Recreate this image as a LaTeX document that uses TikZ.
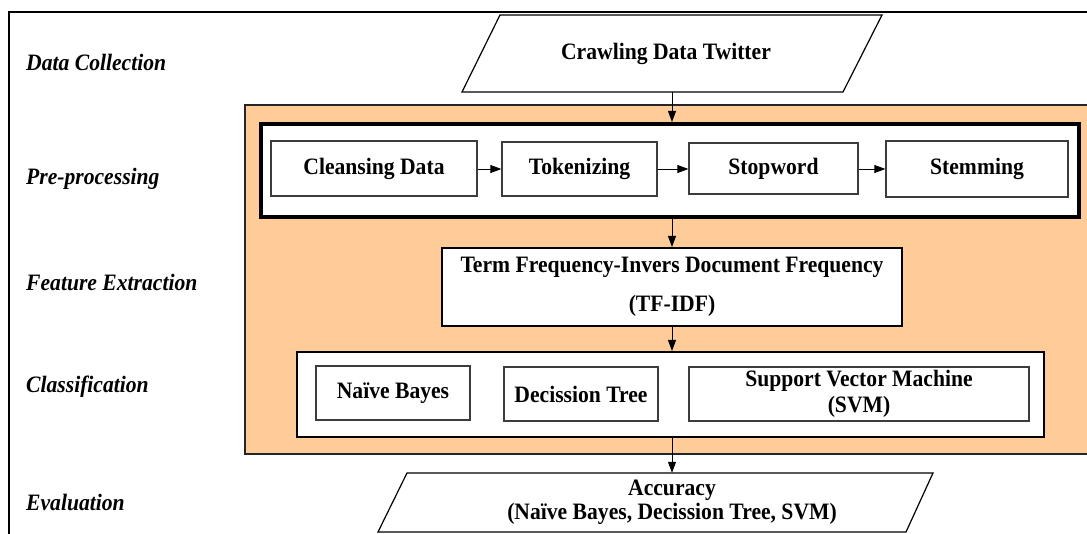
\documentclass[tikz,border=0pt]{standalone}
\usepackage{fontspec}
\setmainfont{Liberation Serif}[FakeStretch=0.92]
\usetikzlibrary{arrows.meta}
\definecolor{orangebg}{RGB}{255,204,153}
\definecolor{boxline}{RGB}{60,60,60}
\begin{document}
\begin{tikzpicture}[x=1pt,y=-1pt,
  lbl/.style={anchor=base west,font=\fontsize{23.5}{26}\selectfont\bfseries\itshape,inner sep=0pt},
  txt/.style={font=\fontsize{23.5}{26}\selectfont\bfseries,align=center,inner sep=0pt},
  smallbox/.style={txt,draw=boxline,line width=1.3pt,fill=white},
  bigbox/.style={draw=black,line width=2pt,fill=white},
  arr/.style={-{Triangle[length=11pt,width=8pt]},line width=0.8pt},
  para/.style={draw=black,line width=1.2pt,fill=white},
]
\useasboundingbox (0,0) rectangle (1087,534);
\clip (0,0) rectangle (1087,534);
% outer frame
\draw[line width=2.3pt] (9,12) rectangle (1120,560);
% stage labels
\node[lbl] (l1) at (26,71) {Data Collection};
\node[lbl] (l2) at (26,185) {Pre-processing};
\node[lbl] (l3) at (26,291) {Feature Extraction};
\node[lbl] (l4) at (26,393) {Classification};
\node[lbl] (l5) at (26,510) {Evaluation};
% orange background
\filldraw[fill=orangebg,draw=black!85,line width=1.6pt] (245,105) rectangle (1120,454);
% data collection
\draw[para] (500,15) -- (882,15) -- (843,92) -- (462,92) -- cycle;
\node[txt,minimum height=77pt] (crawl) at (672,53.5) {\hspace*{-12pt}Crawling Data Twitter};
% preprocessing
\node[draw=black,line width=4pt,fill=white,minimum width=818pt,minimum height=93pt] (pre) at (670,170.5) {};
\node[smallbox,minimum width=206pt,minimum height=55pt] (clean) at (374,168.5) {Cleansing Data};
\node[smallbox,minimum width=155pt,minimum height=54pt] (tok) at (579.5,169) {Tokenizing};
\node[smallbox,minimum width=169pt,minimum height=51pt] (stop) at (773.5,168.5) {Stopword};
\node[smallbox,minimum width=182pt,minimum height=56pt] (stem) at (977,169) {Stemming};
% feature extraction
\node[bigbox,txt,minimum width=460pt,minimum height=78pt] (tfidf) at (672,287) {Term Frequency-Invers Document Frequency\\[13pt](TF-IDF)};
% classification
\node[bigbox,minimum width=747pt,minimum height=85pt] (cls) at (670.5,394.5) {};
\node[smallbox,minimum width=154pt,minimum height=54pt] (nb) at (393,393) {Naïve Bayes};
\node[smallbox,minimum width=154pt,minimum height=54pt] (dt) at (581,394) {Decission Tree};
\node[smallbox,minimum width=340pt,minimum height=54pt] (svm) at (859,394) {Support Vector Machine\\(SVM)};
% evaluation
\draw[para] (407,473) -- (933,473) -- (906,532) -- (378,532) -- cycle;
\node[txt,minimum height=59pt] (acc) at (672,502.5) {Accuracy\\[-2pt](Naïve Bayes, Decission Tree, SVM)};
% connectors
\draw[arr] (crawl.south) -- (crawl.south |- pre.north);
\draw[arr] (clean.east |- tok.west) -- (tok.west);
\draw[arr] (tok.east) -- (stop.west |- tok.east);
\draw[arr] (stop.east |- tok.east) -- (stem.west |- tok.east);
\draw[arr] (crawl.south |- pre.south) -- (crawl.south |- tfidf.north);
\draw[arr] (tfidf.south) -- (tfidf.south |- cls.north);
\draw[arr] (tfidf.south |- cls.south) -- (acc.north);
\end{tikzpicture}
\end{document}
